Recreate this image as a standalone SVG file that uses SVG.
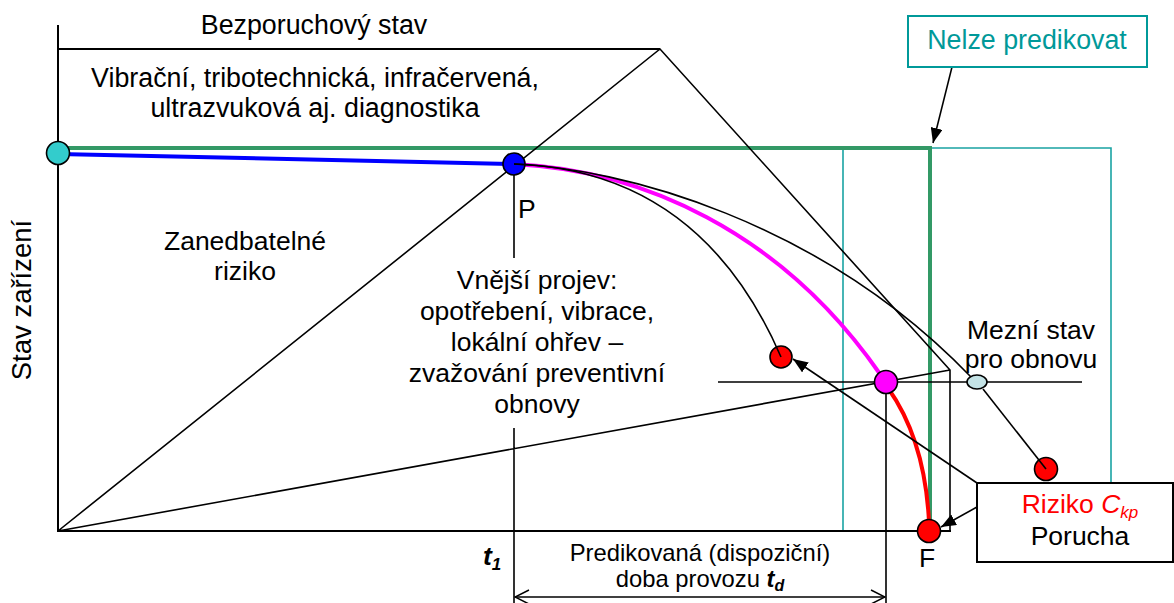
<svg xmlns="http://www.w3.org/2000/svg" width="1174" height="603" viewBox="0 0 1174 603">
<defs>
<marker id="ah" viewBox="0 0 10 10" refX="10" refY="5" markerWidth="15" markerHeight="12" markerUnits="userSpaceOnUse" orient="auto" preserveAspectRatio="none"><path d="M0,0 L10,5 L0,10 z" fill="#000"/></marker>
<marker id="oh" viewBox="0 0 16 16" refX="15" refY="8" markerWidth="16" markerHeight="16" markerUnits="userSpaceOnUse" orient="auto-start-reverse"><path d="M1,1 L15,8 L1,15" fill="none" stroke="#000" stroke-width="1.5"/></marker>
</defs>
<style>
text{font-family:"Liberation Sans",Arial,sans-serif;font-size:26.5px;fill:#000}
.big{font-size:26.8px}
.sm{font-size:23.8px}
.ln{fill:none;stroke:#000;stroke-width:1.6}
.ax{fill:none;stroke:#000;stroke-width:2}
.grn{fill:none;stroke:#339966;stroke-width:4}
.tl{fill:none;stroke:#1aa3a3;stroke-width:1.6}
.dot{stroke:#000;stroke-width:1.6}
.bi{font-weight:bold;font-style:italic}
</style>
<rect width="1174" height="603" fill="#fff"/>

<g id="frame">
<path class="tl" d="M843,148 V531 M930,148 H1111 V483"/>
<path class="grn" d="M58,148 H930 V522"/>
<path class="ax" d="M58,25 V531 H951 M58,49 H660"/>
<path class="ln" d="M58,531 L660,49 L950,370 V531 M58,531 L950,370 M718,382 H1082 M514,164 V258 M514,428 V603 M886,382 V603"/>
</g>

<g id="curves">
<path d="M58,154 L514,164" fill="none" stroke="#0000ff" stroke-width="4"/>
<path d="M514,164 C640,170 780,230 880,374" fill="none" stroke="#ff00ff" stroke-width="4"/>
<path d="M888,388 Q925,440 929,522" fill="none" stroke="#ff0000" stroke-width="4"/>
</g>

<g id="points">
<circle cx="58" cy="153" r="11.5" fill="#33cccc" class="dot"/>
<circle cx="514" cy="164" r="11" fill="#0000ff" class="dot"/>
<circle cx="886" cy="382" r="11.5" fill="#ff00ff" class="dot"/>
<circle cx="929" cy="531" r="11.5" fill="#ff0000" class="dot"/>
<circle cx="781" cy="357" r="11" fill="#ff0000" class="dot"/>
<circle cx="1046" cy="469" r="11.5" fill="#ff0000" class="dot"/>
<ellipse cx="977" cy="382" rx="10" ry="7" fill="#c4e3e6" class="dot"/>
</g>

<g id="connectors">
<path class="ln" d="M514,164 Q700,170 781,357"/>
<path class="ln" d="M514,164 C620,168 820,220 971,377"/>
<path class="ln" d="M983,389 L1046,469"/>
<path class="ln" d="M977,483 L793,359" marker-end="url(#ah)"/>
<path class="ln" d="M977,507 L941,527" marker-end="url(#ah)"/>
<path class="ln" d="M954,59 L933,143" marker-end="url(#ah)"/>
<path class="ln" d="M515,597 H885" marker-start="url(#oh)" marker-end="url(#oh)"/>
</g>

<g id="nelze">
<rect x="908" y="16" width="239" height="51" fill="#fff" stroke="#009999" stroke-width="2"/>
<text x="1027" y="49" text-anchor="middle" class="big" style="fill:#009999">Nelze predikovat</text>
</g>

<g id="riziko">
<rect x="977" y="483" width="196" height="79" fill="#fff" stroke="#000" stroke-width="2"/>
<text x="1080" y="513" text-anchor="middle" style="fill:#ff0000">Riziko <tspan font-style="italic" style="fill:#ff0000">C</tspan><tspan font-style="italic" font-size="17" dy="5" style="fill:#ff0000">kp</tspan></text>
<text x="1080" y="545" text-anchor="middle">Porucha</text>
</g>

<g id="labels">
<text x="314" y="34" text-anchor="middle" class="big">Bezporuchový stav</text>
<text x="315" y="87" text-anchor="middle" class="big">Vibrační, tribotechnická, infračervená,</text>
<text x="315" y="117" text-anchor="middle" class="big">ultrazvuková aj. diagnostika</text>
<text x="245" y="250" text-anchor="middle">Zanedbatelné</text>
<text x="245" y="280" text-anchor="middle">riziko</text>
<text x="518" y="218">P</text>
<text x="537" y="289" text-anchor="middle">Vnější projev:</text>
<text x="537" y="320" text-anchor="middle">opotřebení, vibrace,</text>
<text x="537" y="351" text-anchor="middle">lokální ohřev –</text>
<text x="537" y="382" text-anchor="middle">zvažování preventivní</text>
<text x="537" y="413" text-anchor="middle">obnovy</text>
<text x="1031" y="339" text-anchor="middle">Mezní stav</text>
<text x="1031" y="368" text-anchor="middle">pro obnovu</text>
<text transform="translate(31,300) rotate(-90)" text-anchor="middle" style="font-size:27.5px">Stav zařízení</text>
<text x="483" y="565" class="bi">t<tspan font-size="17" dy="5">1</tspan></text>
<text x="700" y="561" text-anchor="middle" class="sm">Predikovaná (dispoziční)</text>
<text x="700" y="587" text-anchor="middle" class="sm">doba provozu <tspan class="bi">t</tspan><tspan class="bi" font-size="16" dy="4">d</tspan></text>
<text x="919" y="567">F</text>
</g>
</svg>
